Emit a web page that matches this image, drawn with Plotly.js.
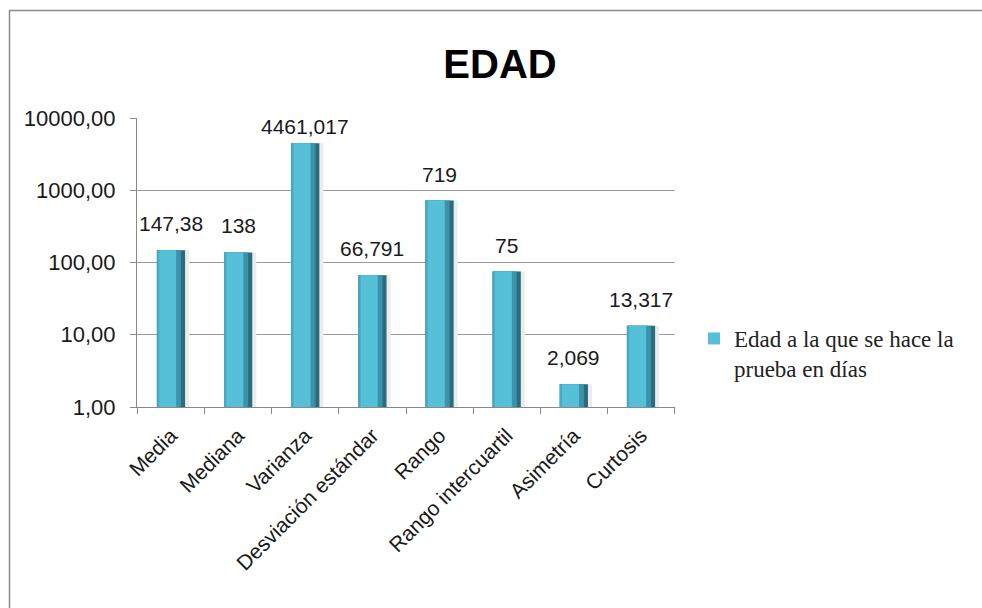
<!DOCTYPE html>
<html>
<head>
<meta charset="utf-8">
<script src="https://cdn.plot.ly/plotly-3.0.1.min.js"></script>
<style>html,body{margin:0;padding:0;background:#fff;}#chart{width:982px;height:608px;}</style>
</head>
<body>
<div id="chart"></div>
<script>
const categories = ['Media', 'Mediana', 'Varianza', 'Desviación estándar', 'Rango', 'Rango intercuartil', 'Asimetría', 'Curtosis'];
const values = [147.38, 138, 4461.017, 66.791, 719, 75, 2.069, 13.317];
const seriesName = 'Edad a la que se hace la<br>prueba en días';
const tickValues = [1, 10, 100, 1000, 10000];
const tickLabels = ['1,00', '10,00', '100,00', '1000,00', '10000,00'];
const valueLabels = values.map(v => String(v).replace('.', ','));

// plot area in pixels
const L = 137, R = 982 - 675, T = 118, B = 608 - 407;
const W = 982 - L - R, H = 608 - T - B;
const px2x = p => (p - L) / W;
const px2y = p => (608 - B - p) / H;

const layers = [
  {w: 0.47, o: -0.20, c: '#ececec'},
  {w: 0.42, o: -0.21, c: '#2a6b7d'},
  {w: 0.36, o: -0.21, c: '#3b93a9'},
  {w: 0.29, o: -0.21, c: '#45abc4'},
  {w: 0.25, o: -0.175, c: '#56c0d9'}
];
const traces = layers.map((ly, i) => ({
  type: 'bar',
  x: categories,
  y: values,
  name: seriesName,
  width: ly.w,
  offset: ly.o,
  marker: {color: ly.c, line: {width: 0}},
  showlegend: i === layers.length - 1,
  hoverinfo: 'skip'
}));

const decadePx = H / 4;
const annotations = categories.map((c, i) => {
  const topPx = (4 - Math.log10(values[i])) * decadePx;
  return {
    x: c, y: Math.log10(values[i]), xref: 'x', yref: 'y',
    text: valueLabels[i], showarrow: false, yanchor: 'bottom',
    yshift: Math.max(2, Math.min(13, topPx - 22)),
    font: {family: 'Liberation Sans, Arial, sans-serif', size: 21, color: '#1a1a1a'}
  };
});

const layout = {
  width: 982, height: 608,
  margin: {l: L, r: R, t: T, b: B},
  paper_bgcolor: '#ffffff', plot_bgcolor: '#ffffff',
  barmode: 'overlay',
  title: {
    text: '<b>EDAD</b>',
    x: 500 / 982, xanchor: 'center',
    y: 1 - 64 / 608, yanchor: 'middle',
    font: {family: 'Liberation Sans, Arial, sans-serif', size: 40, color: '#000'}
  },
  xaxis: {
    type: 'category',
    tickangle: -45,
    ticks: 'outside', ticklen: 6, tickcolor: '#888', tickson: 'boundaries',
    showline: true, linecolor: '#888', linewidth: 1,
    showgrid: false,
    ticklabelstandoff: 7,
    tickfont: {family: 'Liberation Sans, Arial, sans-serif', size: 21, color: '#1a1a1a'},
    fixedrange: true
  },
  yaxis: {
    type: 'log',
    range: [0, 4],
    tickvals: tickValues,
    ticktext: tickLabels,
    ticks: 'outside', ticklen: 6, tickcolor: '#888',
    showline: true, linecolor: '#888', linewidth: 1,
    showgrid: true, gridcolor: '#9a9a9a', gridwidth: 1,
    ticklabelstandoff: 10,
    tickfont: {family: 'Liberation Sans, Arial, sans-serif', size: 22, color: '#1a1a1a'},
    fixedrange: true
  },
  legend: {
    x: px2x(694), xanchor: 'left',
    y: px2y(317), yanchor: 'top',
    valign: 'top',
    bgcolor: 'rgba(0,0,0,0)',
    font: {family: 'Liberation Serif, Times New Roman, serif', size: 23, color: '#222'}
  },
  annotations: annotations,
  shapes: [{
    type: 'rect', xref: 'paper', yref: 'paper',
    x0: px2x(9.5), x1: px2x(1000), y0: px2y(630), y1: px2y(10.5),
    line: {color: '#8c8c8c', width: 1.5}, fillcolor: 'rgba(0,0,0,0)', layer: 'below'
  }],
  showlegend: true
};

Plotly.newPlot('chart', traces, layout, {displayModeBar: false, staticPlot: true});
</script>
</body>
</html>
